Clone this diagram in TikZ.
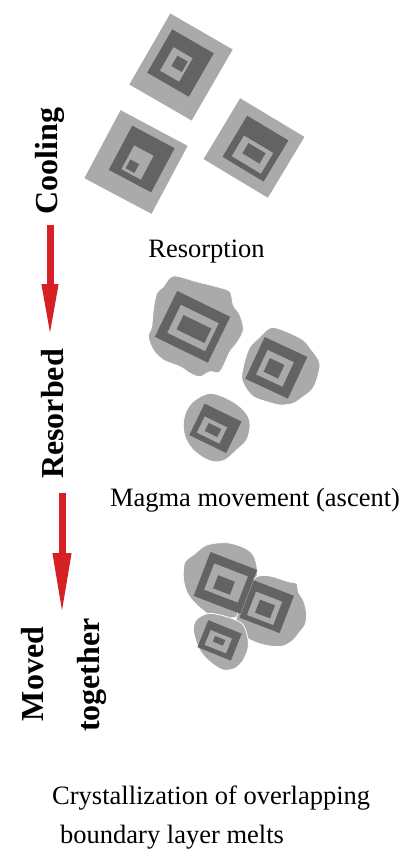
\documentclass[tikz,border=0pt]{standalone}
\usepackage{fontspec}
\setmainfont{Liberation Serif}
\usetikzlibrary{arrows.meta}
\definecolor{crystlight}{RGB}{170,170,170}
\definecolor{crystdark}{RGB}{101,98,98}
\definecolor{arrowred}{RGB}{213,33,38}
% rotated zone: centre x, centre y, angle, width, height, colour
\newcommand{\zone}[6]{\fill[#6,rotate around={#3:(#1,#2)}] (#1-#4/2,#2-#5/2) rectangle (#1+#4/2,#2+#5/2);}
\begin{document}
\begin{tikzpicture}[x=1pt,y=-1pt,
    stage/.style={font=\fontsize{32}{36}\selectfont\bfseries, rotate=90, anchor=base, inner sep=0pt},
    caption/.style={font=\fontsize{26.5}{32}\selectfont, anchor=base, inner sep=0pt},
    flow/.style={arrowred, line width=7pt},
    blob/.style={fill=crystlight, draw=white, line width=0.8pt}]
	  \useasboundingbox (0,0) rectangle (401,855);
	  \node[stage] (cooling) at (57,161) {Cooling};
	  \node[stage] (resorbed) at (63,414) {Resorbed};
	  \node[stage] (moved) at (43,674) {Moved};
	  \node[stage] (together) at (99,675) {together};
	  \coordinate (c1a) at (50,225);
	  \coordinate (c1b) at (50,338);
	  \coordinate (c2a) at (62,493);
	  \coordinate (c2b) at (62,615);
	  \draw[flow,-{Triangle[length=54pt,width=15pt]}] (c1a) -- (c1b);
	  \draw[flow,-{Triangle[length=62pt,width=17pt]}] (c2a) -- (c2b);
	  \node[caption] (resorption) at (206.5,257) {Resorption};
	  \node[caption] (magma) at (255,506) {Magma movement (ascent)};
	  \node[caption,anchor=base west] (cryst1) at (52,804) {Crystallization of overlapping};
	  \node[caption,anchor=base west] (cryst2) at (60,843) {boundary layer melts};
	  \zone{181}{67}{-30}{72}{82}{crystlight}
	  \zone{180.5}{63}{-30}{48}{50}{crystdark}
	  \zone{176.3}{64.4}{-30}{22}{27}{crystlight}
	  \zone{179.6}{63.8}{-30}{12}{12}{crystdark}
	  \zone{136}{162}{-28}{76}{77}{crystlight}
	  \zone{141.7}{159}{-28}{48}{50}{crystdark}
	  \zone{137.5}{162.5}{-28}{22}{27}{crystlight}
	  \zone{132.4}{166.2}{-28}{10}{10}{crystdark}
	  \zone{254}{148}{-31}{75}{71}{crystlight}
	  \zone{255.4}{148.6}{-31}{48}{48}{crystdark}
	  \zone{252.5}{154.6}{-31}{34}{24}{crystlight}
	  \zone{254}{153.3}{-31}{20}{12}{crystdark}
	  \fill[blob] plot[smooth cycle, tension=0.55] coordinates {(173.3,276) (196.7,281.7) (216.7,286.7) (230,291.7) (233.3,305) (240,315) (243.3,330) (236.7,343.3) (230,351.7) (220,371.7) (210,371.7) (200,376.7) (190,373.3) (180,366.7) (163.3,360) (153.3,350) (148.3,336.7) (151.7,326.7) (153.3,310) (156.7,293.3) (163.3,286.7)};
	  \fill[blob] plot[smooth cycle, tension=0.55] coordinates {(273.3,327.3) (286.7,331.7) (303.3,340) (311.7,350) (316.7,356.7) (320,365) (316.7,380) (311.7,390) (303.3,396.7) (293.3,403.3) (280,405) (266.7,401.7) (253.3,396.7) (245,386.7) (241.7,376.7) (245,360) (250,346.7) (260,336.7) (266.7,330)};
	  \fill[blob] plot[smooth cycle, tension=0.55] coordinates {(210,393.3) (226.7,398.3) (240,406.7) (248.3,416.7) (250,426.7) (246.7,440) (236.7,450) (225,460) (213.3,461.7) (201.7,456.7) (191.7,448.3) (185,436.7) (183.3,423.3) (186.7,410) (195,400)};
	  \zone{192.5}{326.8}{-26}{59}{51}{crystdark}
	  \zone{193}{328}{-26}{42}{31}{crystlight}
	  \zone{194}{329}{-26}{31}{16}{crystdark}
	  \zone{276.3}{367.8}{-25}{47}{46}{crystdark}
	  \zone{275}{368.3}{-25}{29}{27}{crystlight}
	  \zone{274}{368.3}{-25}{16}{15}{crystdark}
	  \zone{215.4}{428.3}{-26}{41}{35}{crystdark}
	  \zone{212}{430}{-26}{25}{18}{crystlight}
	  \zone{213}{430}{-26}{14}{9}{crystdark}
	  \fill[blob] plot[smooth cycle, tension=0.55] coordinates {(206.7,545) (226.7,542.7) (243.3,547.3) (253.3,555) (257.3,570) (255,586.7) (250,606.7) (243.3,615) (226.7,618.3) (210,615) (195,603.3) (186.7,591.7) (183.3,576.7) (185,561.7) (193.3,555)};
	  \fill[blob] plot[smooth cycle, tension=0.55] coordinates {(256.7,576.7) (270,576) (288.3,581.7) (296.7,583.3) (298.3,591.7) (304,601.7) (306.7,615) (305,625) (300,631.7) (293.3,640) (283.3,646) (270,646) (256.7,642.7) (245,636.7) (237.3,628.3) (236,620) (240,606.7) (248.3,586.7)};
	  \fill[blob] plot[smooth cycle, tension=0.55] coordinates {(200,616.7) (210,613.3) (226.7,616.7) (241.7,623.3) (246.7,633.3) (248.3,646.7) (243.3,660) (235,668.3) (223.3,670) (211.7,663.3) (201.7,653.3) (196.7,643.3) (193.3,630) (195,621.7)};
	  \zone{225.4}{582.9}{-21}{50}{47}{crystdark}
	  \zone{226}{583}{-21}{36}{28}{crystlight}
	  \zone{224}{585}{-21}{18}{14}{crystdark}
	  \zone{266.7}{606.7}{-21}{43}{40}{crystdark}
	  \zone{264.6}{608.3}{-21}{28}{25}{crystlight}
	  \zone{265}{609}{-21}{16}{14}{crystdark}
	  \zone{219.6}{640.4}{-22}{36}{29}{crystdark}
	  \zone{218.3}{641.7}{-22}{23}{16}{crystlight}
	  \zone{219}{640.8}{-22}{11}{6}{crystdark}
	\end{tikzpicture}
\end{document}
